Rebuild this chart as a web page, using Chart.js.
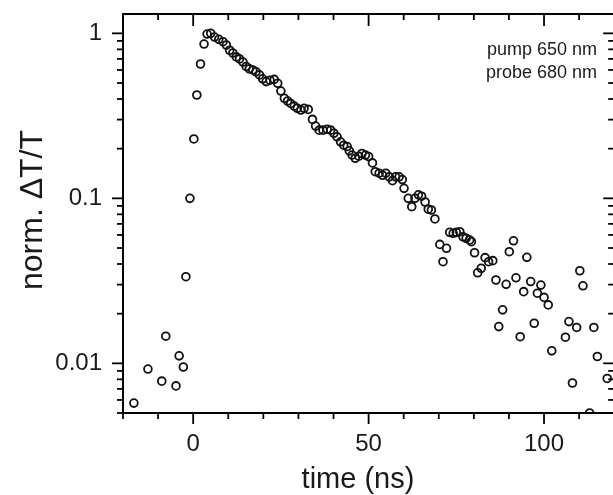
<!DOCTYPE html>
<html>
<head>
<meta charset="utf-8">
<script src="https://cdn.jsdelivr.net/npm/chart.js@4/dist/chart.umd.min.js"></script>
<style>
  html, body { margin: 0; padding: 0; background: #fff; overflow: hidden; }
  canvas { display: block; }
</style>
</head>
<body>
<canvas id="c" width="620" height="495" style="width:620px;height:495px"></canvas>
<script>
// ---- data ----
const timeNs = [
  -16.9, -12.9, -8.95, -7.8, -4.9, -4.0, -2.8, -2.07, -0.93, 0.2,
  1.05, 2.09, 3.1, 3.97, 5.0, 6.1, 7.3, 8.5, 9.45, 10.4,
  11.3, 12.3, 13.2, 14.2, 15.1, 16.0, 17.0, 17.9, 18.9, 19.8,
  20.8, 21.9, 23.1, 24.1, 25.0, 26.0, 26.9, 27.8, 28.8, 29.7,
  30.7, 31.6, 32.8, 34.0, 34.9, 35.9, 37.0, 38.2, 39.2, 40.1,
  41.0, 42.0, 42.9, 43.9, 44.5, 45.3, 46.2, 47.2, 48.1, 49.1,
  50.0, 51.1, 51.9, 53.0, 54.0, 54.9, 55.9, 56.8, 57.7, 58.7,
  59.6, 60.1, 61.3, 62.3, 63.2, 64.2, 65.1, 66.1, 67.0, 67.9,
  68.9, 70.3, 71.2, 72.2, 73.1, 74.1, 75.0, 76.0, 76.9, 77.8,
  78.8, 79.3, 80.2, 81.1, 82.1, 83.2, 84.2, 85.4, 86.3, 87.1,
  88.2, 89.2, 90.1, 91.3, 92.0, 93.2, 94.2, 95.1, 96.2, 97.2,
  98.1, 99.1, 100.0, 101.2, 102.2, 106.1, 107.1, 108.1, 109.3, 110.2,
  111.1, 113.0, 114.2, 115.2, 118.0
];
const normDT = [
  0.00574, 0.00923, 0.0078, 0.0146, 0.0073, 0.0111, 0.0095, 0.0335, 0.100, 0.229,
  0.423, 0.652, 0.861, 0.99, 1.0, 0.95, 0.92, 0.89, 0.85, 0.79,
  0.76, 0.72, 0.70, 0.67, 0.63, 0.61, 0.60, 0.585, 0.56, 0.53,
  0.51, 0.52, 0.526, 0.498, 0.447, 0.404, 0.389, 0.376, 0.362, 0.351,
  0.343, 0.351, 0.346, 0.301, 0.274, 0.259, 0.259, 0.262, 0.259, 0.248,
  0.236, 0.220, 0.210, 0.206, 0.194, 0.183, 0.175, 0.180, 0.187, 0.183,
  0.179, 0.164, 0.145, 0.142, 0.138, 0.142, 0.135, 0.128, 0.135, 0.135,
  0.130, 0.115, 0.100, 0.089, 0.100, 0.105, 0.103, 0.095, 0.086, 0.085,
  0.075, 0.0526, 0.0413, 0.0498, 0.0622, 0.0614, 0.0622, 0.0628, 0.0585, 0.0573,
  0.0559, 0.0546, 0.0468, 0.0354, 0.0377, 0.0437, 0.0413, 0.0419, 0.032, 0.0167,
  0.0211, 0.0301, 0.0475, 0.0553, 0.033, 0.0145, 0.0272, 0.0439, 0.0313, 0.0175,
  0.0266, 0.0298, 0.0251, 0.0226, 0.0119, 0.0144, 0.0179, 0.0076, 0.0165, 0.0364,
  0.0295, 0.0050, 0.0165, 0.011, 0.0081
];
const xMajorTicks = [0, 50, 100];
const xTickLabels = ['0', '50', '100'];
const yMajorTicks = [0.01, 0.1, 1];
const yTickLabels = ['0.01', '0.1', '1'];
const xTitle = 'time (ns)';
const yTitle = 'norm. \u0394T/T';
const noteLines = ['pump 650 nm', 'probe 680 nm'];

const X_MIN = -20, X_MAX = 120, Y_MIN = 0.005, Y_MAX = 1.31;

// minor tick positions
const xMinorTicks = [];
for (let v = X_MIN; v <= X_MAX; v += 10) if (!xMajorTicks.includes(v)) xMinorTicks.push(v);
const yMinorTicks = [];
for (let e = -3; e <= 0; e++) for (let m = 2; m <= 9; m++) {
  const v = m * Math.pow(10, e);
  if (v >= Y_MIN * 0.999 && v <= Y_MAX) yMinorTicks.push(v);
}

const points = timeNs.map((t, i) => ({ x: t, y: normDT[i] }));
const FONT = '"Liberation Sans", Arial, sans-serif';
const TXT = '#1a1a1a';

const framePlugin = {
  id: 'frame',
  afterDraw(chart) {
    const { ctx, chartArea: a, scales } = chart;
    const xs = scales.x, ys = scales.y;
    ctx.save();
    ctx.strokeStyle = '#000';
    ctx.lineWidth = 2;
    ctx.lineCap = 'butt';
    ctx.beginPath();
    ctx.rect(a.left, a.top, a.right - a.left, a.bottom - a.top);
    ctx.stroke();
    ctx.lineWidth = 1.8;
    const tick = (x1, y1, x2, y2) => { ctx.beginPath(); ctx.moveTo(x1, y1); ctx.lineTo(x2, y2); ctx.stroke(); };
    xMajorTicks.forEach(v => { const p = xs.getPixelForValue(v); tick(p, a.bottom, p, a.bottom + 11); tick(p, a.top, p, a.top + 12); });
    xMinorTicks.forEach(v => { const p = xs.getPixelForValue(v); tick(p, a.bottom, p, a.bottom + 6); tick(p, a.top, p, a.top + 6); });
    yMajorTicks.forEach(v => { const p = ys.getPixelForValue(v); tick(a.left, p, a.left - 11, p); tick(a.right, p, a.right - 11, p); });
    yMinorTicks.forEach(v => { const p = ys.getPixelForValue(v); tick(a.left, p, a.left - 6, p); tick(a.right, p, a.right - 6, p); });

    ctx.fillStyle = TXT;
    // x title
    ctx.font = '29px ' + FONT;
    ctx.textAlign = 'center';
    ctx.textBaseline = 'alphabetic';
    ctx.fillText(xTitle, 358, 488);
    // y title
    ctx.save();
    ctx.translate(42, 210);
    ctx.rotate(-Math.PI / 2);
    ctx.font = '32px ' + FONT;
    ctx.textAlign = 'center';
    ctx.textBaseline = 'alphabetic';
    ctx.fillText(yTitle, 0, 0);
    ctx.restore();
    // note
    ctx.font = '18px ' + FONT;
    ctx.textAlign = 'right';
    ctx.fillText(noteLines[0], 597, 55);
    ctx.fillText(noteLines[1], 597, 78);
    ctx.restore();
  }
};

new Chart(document.getElementById('c'), {
  type: 'scatter',
  data: {
    datasets: [{
      data: points,
      pointStyle: 'circle',
      pointRadius: 3.9,
      pointBorderWidth: 1.8,
      borderColor: '#111',
      backgroundColor: 'rgba(0,0,0,0)',
      pointBackgroundColor: 'rgba(0,0,0,0)',
      pointBorderColor: '#111',
      clip: 0
    }]
  },
  options: {
    responsive: false,
    devicePixelRatio: 1,
    animation: false,
    events: [],
    layout: { padding: { left: 0, top: 14, right: 3, bottom: 0 } },
    plugins: { legend: { display: false }, tooltip: { enabled: false }, title: { display: false } },
    scales: {
      x: {
        type: 'linear',
        min: X_MIN, max: X_MAX,
        grid: { display: false, drawTicks: false },
        border: { display: false },
        afterBuildTicks: s => { s.ticks = xMajorTicks.map(v => ({ value: v })); },
        afterFit: s => { s.height = 82; s.paddingLeft = 0; s.paddingRight = 0; },
        ticks: {
          padding: 17,
          autoSkip: false,
          maxRotation: 0,
          color: TXT,
          font: { family: FONT, size: 24 },
          callback: (v, i) => xTickLabels[i]
        }
      },
      y: {
        type: 'logarithmic',
        min: Y_MIN, max: Y_MAX,
        grid: { display: false, drawTicks: false },
        border: { display: false },
        afterBuildTicks: s => { s.ticks = yMajorTicks.map(v => ({ value: v })); },
        afterFit: s => { s.width = 123; s.paddingTop = 0; s.paddingBottom = 0; },
        ticks: {
          padding: 21,
          autoSkip: false,
          color: TXT,
          font: { family: FONT, size: 24 },
          callback: (v, i) => yTickLabels[i]
        }
      }
    }
  },
  plugins: [framePlugin]
});
</script>
</body>
</html>
